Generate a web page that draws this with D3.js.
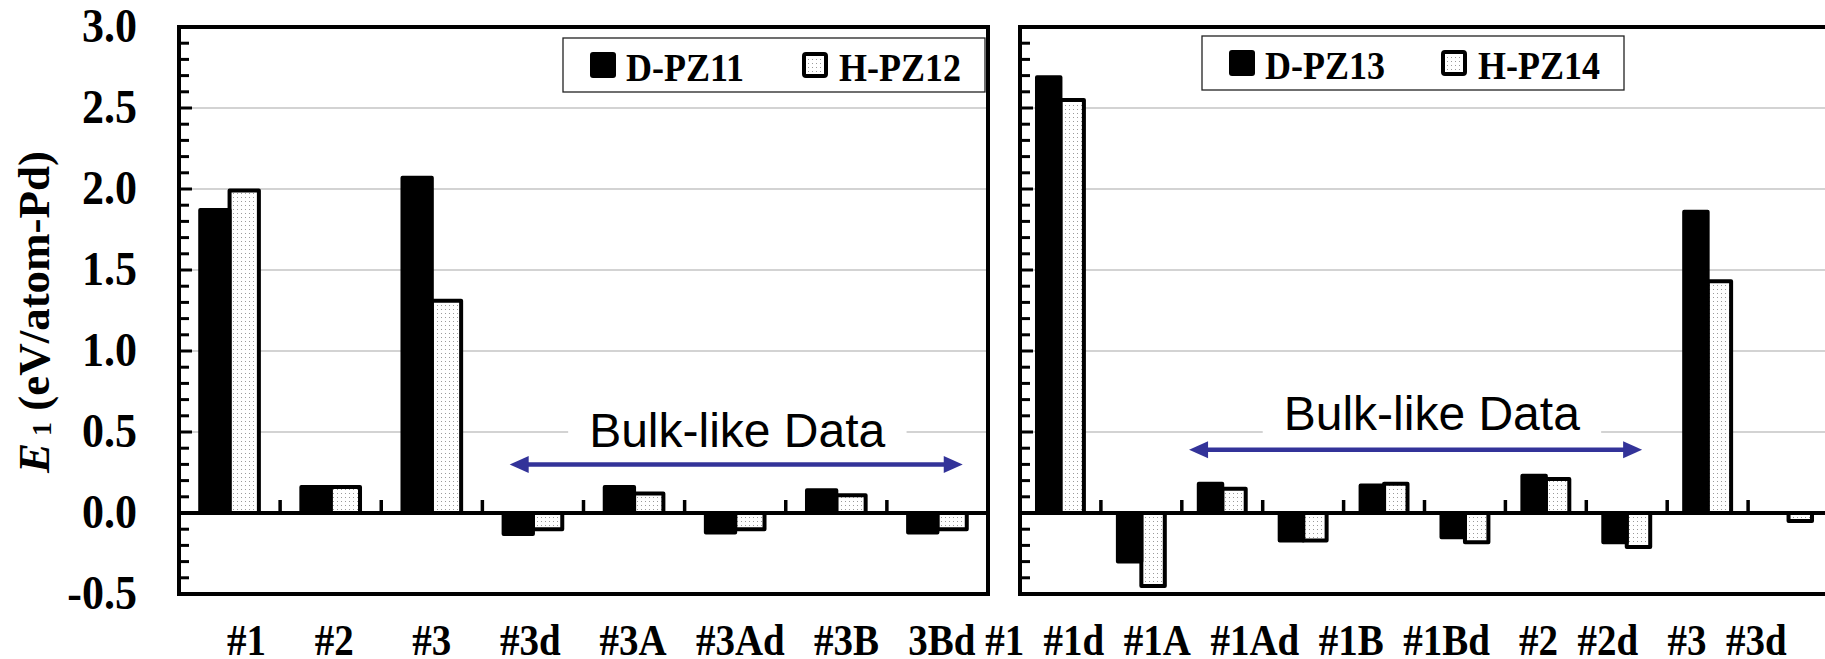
<!DOCTYPE html>
<html>
<head>
<meta charset="utf-8">
<script src="https://cdn.jsdelivr.net/npm/d3@7"></script>
<style>
  html, body { margin: 0; padding: 0; background: #fff; }
  svg { display: block; }
</style>
</head>
<body>
<svg id="chart" width="1825" height="659"></svg>
<script>
// ---- data ----
const leftCategories = ["#1", "#2", "#3", "#3d", "#3A", "#3Ad", "#3B", "3Bd"];
const dPZ11 = [1.87, 0.16, 2.07, -0.13, 0.16, -0.12, 0.14, -0.12];
const hPZ12 = [1.99, 0.16, 1.31, -0.10, 0.12, -0.10, 0.11, -0.10];

const rightCategories = ["#1", "#1d", "#1A", "#1Ad", "#1B", "#1Bd", "#2", "#2d", "#3", "#3d"];
const dPZ13 = [2.69, -0.30, 0.18, -0.17, 0.17, -0.15, 0.23, -0.18, 1.86, 0.00];
const hPZ14 = [2.55, -0.45, 0.15, -0.17, 0.18, -0.18, 0.21, -0.21, 1.43, -0.05];

const yTickValues = [-0.5, 0.0, 0.5, 1.0, 1.5, 2.0, 2.5, 3.0];
const yTickLabels = ["-0.5", "0.0", "0.5", "1.0", "1.5", "2.0", "2.5", "3.0"];
const gridValues = [0.5, 1.0, 1.5, 2.0, 2.5];

// one continuous label row under both panels, with the spaces that separate the names
const bottomLabels = [...leftCategories, ...rightCategories];
const labelGaps = [5, 6, 5, 4, 3, 3, 3, 1, 2, 2, 2, 2, 2, 3, 2, 3, 2];

// ---- layout ----
const serif = "'Liberation Serif', 'Times New Roman', Times, serif";
const sans = "'Liberation Sans', Arial, Helvetica, sans-serif";
const svg = d3.select("#chart");

const y = d3.scaleLinear().domain([-0.5, 3.0]).range([594, 27]);

const panels = [
  {
    x0: 179, x1: 988, categories: leftCategories,
    d: dPZ11, h: hPZ12, names: ["D-PZ11", "H-PZ12"],
    legend: { x: 563, y: 38 },
    note: { from: 3.27, to: 7.75, arrowY: 0.30, textAt: 5.52, textY: 0.405 }
  },
  {
    x0: 1020, x1: 1829, categories: rightCategories,
    d: dPZ13, h: hPZ14, names: ["D-PZ13", "H-PZ14"],
    legend: { x: 1202, y: 36 },
    note: { from: 2.09, to: 7.69, arrowY: 0.39, textAt: 5.09, textY: 0.51 }
  }
];

// light stipple used by the H series
const defs = svg.append("defs");
const pat = defs.append("pattern")
  .attr("id", "stipple").attr("patternUnits", "userSpaceOnUse")
  .attr("width", 4).attr("height", 4);
pat.append("rect").attr("width", 4).attr("height", 4).attr("fill", "#fff");
pat.append("rect").attr("x", 1).attr("y", 1).attr("width", 1).attr("height", 1).attr("fill", "#9a9a9a");

// bold serif text, slightly tall, anchored at its baseline point
function tallText(parent, x0, y0, size, stretch) {
  return parent.append("text")
    .attr("transform", `translate(${x0},${y0}) scale(1,${stretch})`)
    .attr("font-family", serif).attr("font-weight", "bold").attr("font-size", size);
}

panels.forEach(p => {
  const g = svg.append("g");
  const x = d3.scaleBand().domain(p.categories).range([p.x0, p.x1]).paddingInner(0).paddingOuter(0);
  const idx = d3.scaleLinear().domain([0, p.categories.length]).range([p.x0, p.x1]);
  const bw = x.bandwidth();
  const w = bw * 0.29;

  // horizontal grid
  g.selectAll(".grid").data(gridValues).join("line")
    .attr("x1", p.x0).attr("x2", p.x1)
    .attr("y1", d => y(d)).attr("y2", d => y(d))
    .attr("stroke", "#a8a8a8").attr("stroke-width", 1.2);

  // "Bulk-like Data" label on a white box that cuts the grid line
  const noteG = g.append("g");
  const noteText = noteG.append("text")
    .attr("x", idx(p.note.textAt)).attr("y", y(p.note.textY))
    .attr("text-anchor", "middle")
    .attr("font-family", sans).attr("font-size", 48).attr("fill", "#000")
    .text("Bulk-like Data");
  const bb = noteText.node().getBBox();
  noteG.insert("rect", "text")
    .attr("x", bb.x - 21).attr("y", bb.y - 4)
    .attr("width", bb.width + 42).attr("height", bb.height + 8)
    .attr("fill", "#fff");

  // arrow
  const ax1 = idx(p.note.from), ax2 = idx(p.note.to), ay = y(p.note.arrowY);
  const headL = 19, headH = 8.5, blue = "#333399";
  g.append("line")
    .attr("x1", ax1 + headL - 2).attr("x2", ax2 - headL + 2)
    .attr("y1", ay).attr("y2", ay)
    .attr("stroke", blue).attr("stroke-width", 4.5);
  g.append("path")
    .attr("d", `M${ax1},${ay} L${ax1 + headL},${ay - headH} L${ax1 + headL},${ay + headH} Z`)
    .attr("fill", blue);
  g.append("path")
    .attr("d", `M${ax2},${ay} L${ax2 - headL},${ay - headH} L${ax2 - headL},${ay + headH} Z`)
    .attr("fill", blue);

  // bars: H series first, D series on top of it
  const rows = p.categories.map((c, i) => ({ c, d: p.d[i], h: p.h[i] }));
  g.selectAll(".hbar").data(rows.filter(r => r.h !== 0)).join("rect")
    .attr("x", r => x(r.c) + bw / 2)
    .attr("width", w)
    .attr("y", r => y(Math.max(0, r.h)))
    .attr("height", r => Math.abs(y(r.h) - y(0)))
    .attr("fill", "url(#stipple)").attr("stroke", "#000")
    .attr("stroke-width", 4).attr("stroke-linejoin", "round");
  g.selectAll(".dbar").data(rows.filter(r => r.d !== 0)).join("rect")
    .attr("x", r => x(r.c) + bw / 2 - w)
    .attr("width", w)
    .attr("y", r => y(Math.max(0, r.d)))
    .attr("height", r => Math.abs(y(r.d) - y(0)))
    .attr("fill", "#000").attr("stroke", "#000")
    .attr("stroke-width", 4).attr("stroke-linejoin", "round");

  // zero line with category dividers
  g.append("line").attr("x1", p.x0).attr("x2", p.x1)
    .attr("y1", y(0)).attr("y2", y(0))
    .attr("stroke", "#000").attr("stroke-width", 4);
  g.selectAll(".ctick").data(p.categories.slice(1)).join("line")
    .attr("x1", c => x(c)).attr("x2", c => x(c))
    .attr("y1", y(0)).attr("y2", y(0) - 13)
    .attr("stroke", "#000").attr("stroke-width", 3.5);

  // inward minor/major ticks on the value axis
  const minor = d3.range(-5, 31).map(k => k / 10);
  g.selectAll(".ytick").data(minor).join("line")
    .attr("x1", p.x0).attr("x2", k => p.x0 + (Math.round(k * 10) % 5 === 0 ? 13 : 10))
    .attr("y1", k => y(k)).attr("y2", k => y(k))
    .attr("stroke", "#000").attr("stroke-width", 3);

  // frame
  g.append("rect")
    .attr("x", p.x0).attr("y", y(3.0))
    .attr("width", p.x1 - p.x0).attr("height", y(-0.5) - y(3.0))
    .attr("fill", "none").attr("stroke", "#000").attr("stroke-width", 4);

  // legend
  const lg = g.append("g").attr("transform", `translate(${p.legend.x},${p.legend.y})`);
  lg.append("rect").attr("width", 422).attr("height", 54)
    .attr("fill", "#fff").attr("stroke", "#222").attr("stroke-width", 1.3);
  lg.append("rect").attr("x", 27).attr("y", 14).attr("width", 26).attr("height", 26)
    .attr("rx", 3).attr("fill", "#000");
  tallText(lg, 63, 43, 36, 1.1).text(p.names[0]);
  lg.append("rect").attr("x", 241).attr("y", 16).attr("width", 22).attr("height", 22)
    .attr("rx", 2).attr("fill", "url(#stipple)").attr("stroke", "#000").attr("stroke-width", 4);
  tallText(lg, 276, 43, 36, 1.1).text(p.names[1]);
});

// value axis labels (left panel only)
const yLab = svg.append("g");
yTickValues.forEach((v, i) => {
  tallText(yLab, 137, y(v) + 15, 44, 1.1)
    .attr("text-anchor", "end")
    .text(yTickLabels[i]);
});

// axis title
const title = svg.append("text")
  .attr("transform", "translate(49,312) rotate(-90)")
  .attr("text-anchor", "middle")
  .attr("font-family", serif).attr("font-weight", "bold").attr("font-size", 45);
title.append("tspan").attr("font-style", "italic").text("E");
title.append("tspan").attr("font-size", 28).attr("dy", 2).text("\u00a01");
title.append("tspan").attr("dy", -2).text("\u00a0(eV/atom-Pd)");

// category label row
const rowText = bottomLabels.reduce((s, lab, i) =>
  i === 0 ? lab : s + "\u00a0".repeat(labelGaps[i - 1]) + lab, "");
tallText(svg, 227, 655, 39, 1.12).text(rowText);
</script>
</body>
</html>
